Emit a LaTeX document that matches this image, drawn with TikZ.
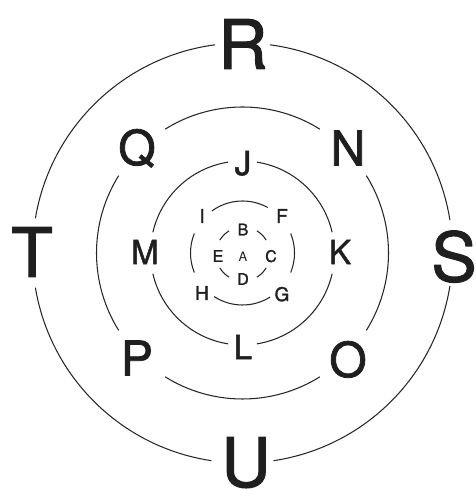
\documentclass[tikz,border=0pt]{standalone}
\usepackage{fontspec}
\setmainfont{TeX Gyre Heros}
\newfontfamily\heavyfont{TeX Gyre Heros}[FakeBold=1.6]
\usetikzlibrary{calc}
\begin{document}
\begin{tikzpicture}[x=1pt,y=1pt,
  ring/.style={line width=1.05pt, draw=black!85},
  lbl/.style={inner sep=0pt, text depth=0pt, text=black!88, anchor=center},
  outerlbl/.style={lbl, font=\heavyfont\fontsize{68}{68}\selectfont},
  thirdlbl/.style={lbl, font=\heavyfont\fontsize{48}{48}\selectfont},
  secondlbl/.style={lbl, font=\heavyfont\fontsize{33}{33}\selectfont},
  firstlbl/.style={lbl, font=\heavyfont\fontsize{19}{19}\selectfont},
  innerlbl/.style={lbl, font=\heavyfont\fontsize{16}{16}\selectfont},
  centerlbl/.style={lbl, font=\fontsize{13}{13}\selectfont}]
\useasboundingbox (0,0) rectangle (475,489);
\coordinate (c) at (242.5,236);
\coordinate (ci) at (243,235);

% outer ring
\foreach \a/\b in {9/82.5, 97.5/170.5, 189.5/261.5, 278.5/351}
  \draw[ring] ($(c)+(\a:210)$) arc[start angle=\a, end angle=\b, radius=210];
% third ring
\foreach \a/\b in {58/122, 148/212, 238/302, -32/32}
  \draw[ring] ($(c)+(\a:146)$) arc[start angle=\a, end angle=\b, radius=146];
% second ring
\foreach \a/\b in {13/81, 99/167, 193/261, 279/347}
  \draw[ring] ($(c)+(\a:92)$) arc[start angle=\a, end angle=\b, radius=92];
% first ring
\foreach \a/\b in {-22/22, 61/126, 158/202, 237/302}
  \draw[ring] ($(c)+(\a:52)$) arc[start angle=\a, end angle=\b, radius=52];
% innermost ring
\foreach \m in {45,135,225,315}
  \draw[ring] ($(ci)+(\m-14:27)$) arc[start angle=\m-14, end angle=\m+14, radius=27];

% labels
\node[outerlbl] (R) at (243,445) {R};
\node[outerlbl] (S) at (454,233) {S};
\node[outerlbl] (U) at (246,27) {U};
\node[outerlbl] (T) at (32,237) {T};

\node[thirdlbl] (Q) at (137,342) {Q};
\node[thirdlbl] (N) at (348,341) {N};
\node[thirdlbl] (O) at (348,130) {O};
\node[thirdlbl] (P) at (137,131) {P};

\node[secondlbl] (J) at (243,326) {J};
\node[secondlbl] (K) at (340,237) {K};
\node[secondlbl] (L) at (243,142) {L};
\node[secondlbl] (M) at (145,237) {M};

\node[firstlbl] (I) at (202,273) {I};
\node[firstlbl] (F) at (282,273) {F};
\node[firstlbl] (G) at (282,195) {G};
\node[firstlbl] (H) at (202,196) {H};

\node[innerlbl] (B) at (243,259.5) {B};
\node[innerlbl] (C) at (271,233) {C};
\node[innerlbl] (D) at (243,210) {D};
\node[innerlbl] (E) at (218,233) {E};
\node[centerlbl] (A) at (243,232) {A};
\end{tikzpicture}
\end{document}
